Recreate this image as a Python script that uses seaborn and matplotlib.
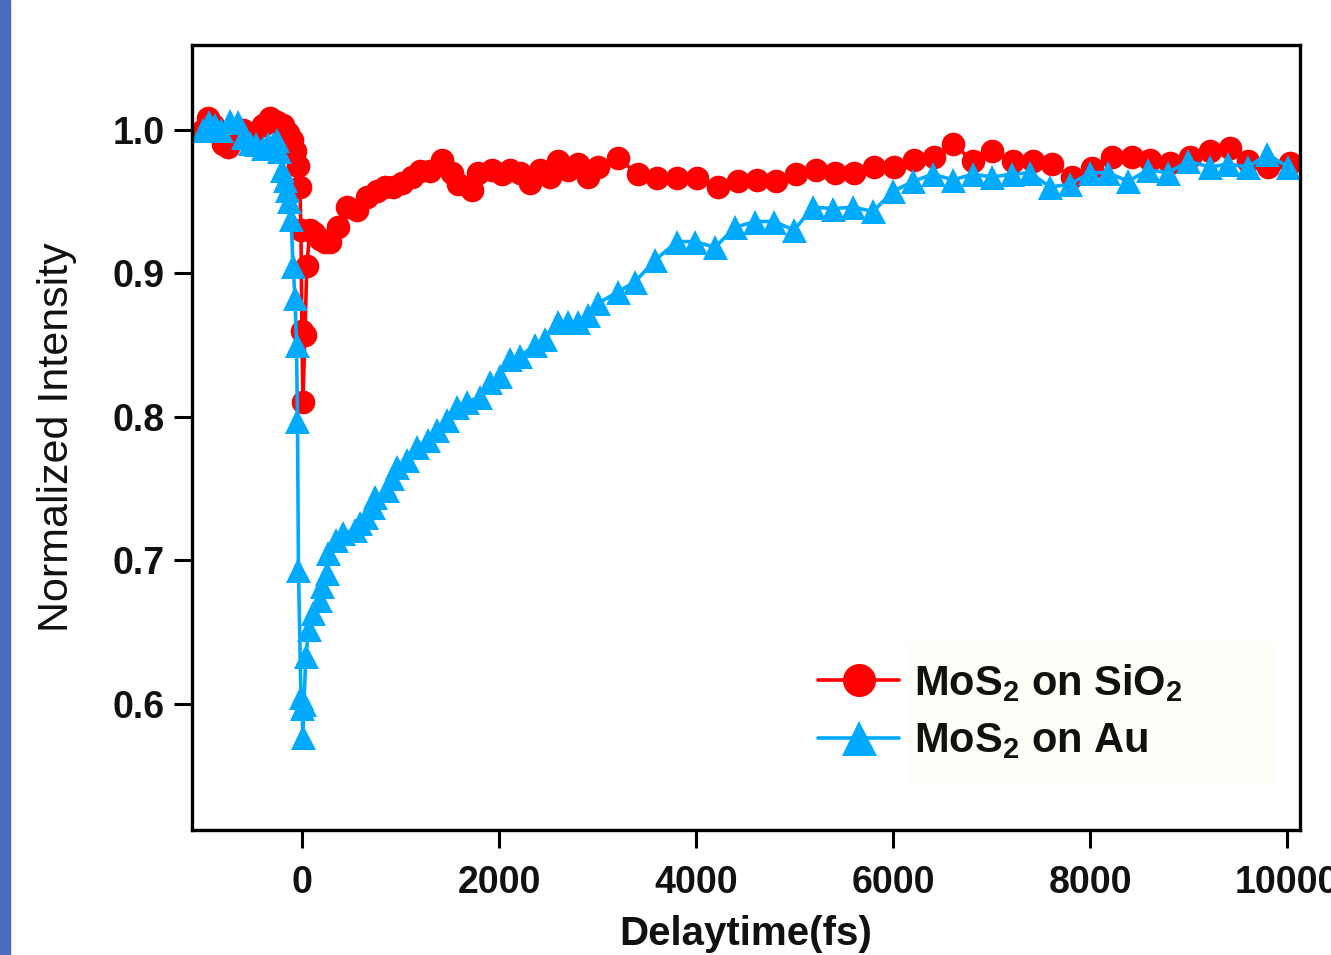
import numpy as np
import pandas as pd
import matplotlib
matplotlib.use('Agg')
import matplotlib.pyplot as plt
from matplotlib.patches import Rectangle
import seaborn as sns

# ---------------------------------------------------------------
# data (delay time in fs, normalized intensity)
# ---------------------------------------------------------------
sio2_time = [-1000, -950, -900, -800, -750, -700, -600, -500, -400, -325, -250, -190,
             -140, -100, -70, -40, -20, -10, 0, 10, 30, 50, 80, 120, 180, 230, 284,
             365, 456, 558, 660, 761, 843, 924, 1015, 1117, 1198, 1300, 1421, 1523,
             1584, 1726, 1787, 1929, 2030, 2112, 2213, 2315, 2416, 2518, 2599, 2700,
             2802, 2904, 3005, 3208, 3411, 3604, 3807, 4010, 4223, 4426, 4619, 4812,
             5015, 5218, 5411, 5604, 5807, 6010, 6213, 6416, 6609, 6812, 7005, 7218,
             7421, 7614, 7817, 8020, 8223, 8426, 8609, 8812, 9015, 9218, 9421, 9604,
             9807, 10030]
sio2_int = [1.000, 1.008, 1.003, 0.990, 0.988, 0.995, 1.000, 0.998, 1.003, 1.008, 1.005, 1.003,
            0.998, 0.993, 0.985, 0.975, 0.960, 0.930, 0.860, 0.810, 0.857, 0.905, 0.930, 0.928,
            0.924, 0.922, 0.922, 0.932, 0.946, 0.944, 0.953, 0.957, 0.960, 0.960, 0.963, 0.967,
            0.971, 0.971, 0.979, 0.970, 0.962, 0.958, 0.970, 0.972, 0.969, 0.972, 0.970, 0.963,
            0.972, 0.967, 0.978, 0.972, 0.976, 0.967, 0.974, 0.980, 0.969, 0.966, 0.966, 0.966,
            0.960, 0.964, 0.965, 0.964, 0.969, 0.972, 0.970, 0.970, 0.974, 0.974, 0.979, 0.981,
            0.990, 0.978, 0.985, 0.978, 0.978, 0.976, 0.967, 0.973, 0.981, 0.981, 0.979, 0.977,
            0.981, 0.985, 0.987, 0.978, 0.974, 0.977]

au_time = [-1000, -940, -880, -820, -730, -650, -600, -530, -470, -400, -340, -290, -254,
           -230, -200, -170, -150, -130, -110, -90, -70, -55, -45, -35, -10, 0, 10, 20,
           40, 70, 110, 180, 200, 250, 260, 350, 420, 540, 590, 650, 720, 740, 860, 910,
           960, 1070, 1170, 1280, 1370, 1470, 1570, 1675, 1807, 1909, 2010, 2112, 2213,
           2365, 2467, 2599, 2700, 2802, 2904, 3005, 3208, 3381, 3584, 3807, 3990, 4193,
           4396, 4599, 4792, 4995, 5188, 5391, 5594, 5797, 6000, 6203, 6406, 6609, 6812,
           7005, 7208, 7391, 7594, 7797, 8000, 8183, 8386, 8589, 8792, 8995, 9218, 9401,
           9604, 9797, 10010]
au_int = [1.000, 1.005, 1.003, 1.000, 1.006, 1.005, 0.995, 0.991, 0.990, 0.987, 0.990, 0.990, 0.993,
          0.985, 0.972, 0.965, 0.958, 0.950, 0.938, 0.905, 0.883, 0.850, 0.797, 0.693, 0.605, 0.597,
          0.577, 0.600, 0.633, 0.652, 0.663, 0.672, 0.682, 0.691, 0.705, 0.714, 0.719, 0.721, 0.726,
          0.730, 0.737, 0.744, 0.749, 0.757, 0.765, 0.770, 0.779, 0.784, 0.791, 0.798, 0.807, 0.810,
          0.814, 0.824, 0.828, 0.840, 0.842, 0.850, 0.854, 0.866, 0.866, 0.866, 0.871, 0.879, 0.887,
          0.894, 0.909, 0.922, 0.922, 0.918, 0.932, 0.936, 0.936, 0.930, 0.946, 0.945, 0.946, 0.943,
          0.957, 0.964, 0.969, 0.965, 0.969, 0.967, 0.969, 0.970, 0.960, 0.962, 0.970, 0.970, 0.964,
          0.972, 0.970, 0.978, 0.974, 0.976, 0.974, 0.983, 0.974]

labels = [r'MoS$_2$ on SiO$_2$', r'MoS$_2$ on Au']
x_ticks = [0, 2000, 4000, 6000, 8000, 10000]
y_ticks = [0.6, 0.7, 0.8, 0.9, 1.0]

sio2 = pd.DataFrame({'t': sio2_time, 'I': sio2_int})
au = pd.DataFrame({'t': au_time, 'I': au_int})

sns.set_style('ticks')
plt.rcParams['font.family'] = ['Liberation Sans', 'DejaVu Sans']
plt.rcParams['mathtext.fontset'] = 'custom'
plt.rcParams['mathtext.rm'] = 'Liberation Sans:bold'
plt.rcParams['mathtext.default'] = 'rm'
plt.rcParams['text.color'] = '#111111'
plt.rcParams['axes.labelcolor'] = '#111111'
plt.rcParams['xtick.color'] = 'black'
plt.rcParams['ytick.color'] = 'black'
plt.rcParams['xtick.labelcolor'] = '#111111'
plt.rcParams['ytick.labelcolor'] = '#111111'

fig = plt.figure(figsize=(13.31, 9.55), dpi=100)
ax = fig.add_axes([0.1443, 0.1309, 0.8324, 0.822])

# blue strip on the left edge of the screenshot
fig.patches.append(Rectangle((0, 0), 10 / 1331, 1, transform=fig.transFigure,
                             color='#4a6cc0', zorder=0))

red = '#ff0000'
blue = '#00aaff'
sns.lineplot(data=sio2, x='t', y='I', ax=ax, color=red, marker='o', markersize=17,
             markeredgewidth=0, linewidth=2.6, label=labels[0], sort=False)
sns.lineplot(data=au, x='t', y='I', ax=ax, color=blue, marker='^', markersize=18,
             markeredgewidth=0, linewidth=2.6, label=labels[1], sort=False)

ax.set_xlim(-1115, 10130)
ax.set_ylim(0.512, 1.059)
ax.set_xticks(x_ticks)
ax.set_yticks(y_ticks)
ax.set_yticklabels([f'{v:.1f}' for v in y_ticks])

for s in ax.spines.values():
    s.set_linewidth(2.4)
    s.set_color('black')
ax.tick_params(axis='both', which='major', length=13, width=2.2, direction='out',
               labelsize=27, top=False, right=False)
ax.tick_params(axis='x', pad=12)
ax.tick_params(axis='y', pad=7)
for lab in ax.get_xticklabels() + ax.get_yticklabels():
    lab.set_fontweight('bold')

ax.set_xlabel('Delaytime(fs)', fontsize=29, fontweight='bold', labelpad=10)
ax.set_ylabel('Normalized Intensity', fontsize=31, labelpad=25)

# faint background behind the legend text
ax.add_patch(Rectangle((0.6453, 0.060), 0.3303, 0.18, transform=ax.transAxes,
                       color='#fefdf7', zorder=1))

leg = ax.legend(loc='upper left', bbox_to_anchor=(0.55, 0.235), frameon=False,
                prop={'size': 30, 'weight': 'bold'}, handlelength=1.95,
                handletextpad=0.35, labelspacing=0.42, borderaxespad=0,
                markerscale=1.4)

fig.savefig('out.png', dpi=100)
